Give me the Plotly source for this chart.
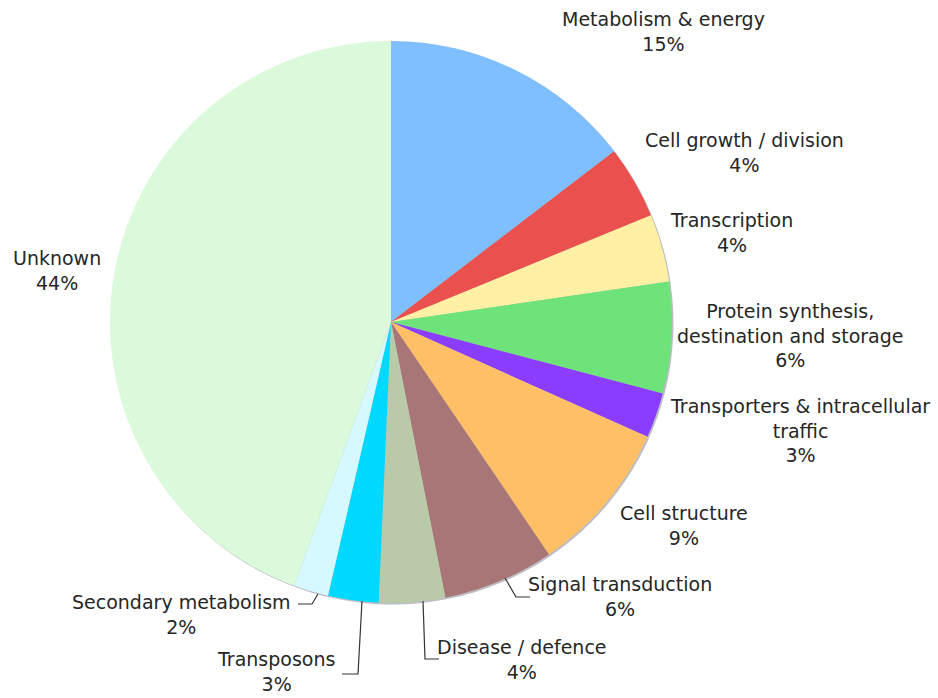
import plotly.graph_objects as go

# ---- data ----
categories = ["Metabolism & energy", "Cell growth / division", "Transcription",
              "Protein synthesis,<br>destination and storage",
              "Transporters & intracellular<br>traffic", "Cell structure",
              "Signal transduction", "Disease / defence", "Transposons",
              "Secondary metabolism", "Unknown"]
values = [14.6, 4.2, 3.9, 6.4, 2.6, 8.8, 6.4, 3.8, 2.9, 2.0, 44.4]
colors = ["#80BFFF", "#E9504E", "#FFF0A3", "#6EE37A", "#8B3DFF", "#FFBF66",
          "#A87676", "#B9CAA9", "#00D9FF", "#D6F8FF", "#DBFADB"]

# ---- layout helpers (pixel -> paper) ----
W, H = 938, 698
def px(x):
    return x / W
def py(y):
    return 1 - y / H

CX, CY, R = 391, 322, 281

# label block centres (pixels)
label_pos = [(663, 31), (744, 152), (731, 232), (790, 335), (800, 430),
             (684, 525), (620, 596), (522, 659), (276, 671), (181, 614), (57, 270)]

# leader lines (pixels)
leaders = [
    [(505, 578), (516, 597), (530, 597)],
    [(423, 601), (425, 659), (439, 659)],
    [(362, 601), (358, 674), (342, 674)],
    [(318, 594), (312, 604), (298, 604)],
]

total = sum(values)
fig = go.Figure(go.Pie(
    labels=categories, values=values, sort=False, direction="clockwise",
    rotation=0, textinfo="none", hoverinfo="label+percent",
    marker=dict(colors=colors, line=dict(width=0)),
    domain=dict(x=[px(CX - R), px(CX + R)], y=[py(CY + R), py(CY - R)]),
    showlegend=False,
))

annotations = []
for lab, v, (x, y) in zip(categories, values, label_pos):
    annotations.append(dict(
        x=px(x), y=py(y), xref="paper", yref="paper",
        text=f"{lab}<br>{round(v / total * 100)}%", showarrow=False,
        xanchor="center", yanchor="middle", align="center",
        font=dict(family="DejaVu Sans", size=19, color="#262626"),
    ))

shapes = [dict(type="circle", xref="paper", yref="paper", layer="below",
               x0=px(CX - R + 1.5), x1=px(CX + R + 1.5),
               y0=py(CY + R + 1.5), y1=py(CY - R + 1.5),
               fillcolor="#BDBDC4", line=dict(width=0))]
for pts in leaders:
    path = "M " + " L ".join(f"{px(a)},{py(b)}" for a, b in pts)
    shapes.append(dict(type="path", xref="paper", yref="paper", path=path,
                       line=dict(color="#333333", width=1.2)))

fig.update_layout(
    width=W, height=H, margin=dict(l=0, r=0, t=0, b=0),
    paper_bgcolor="white", plot_bgcolor="white",
    annotations=annotations, shapes=shapes,
)

fig.write_html("out.html")
